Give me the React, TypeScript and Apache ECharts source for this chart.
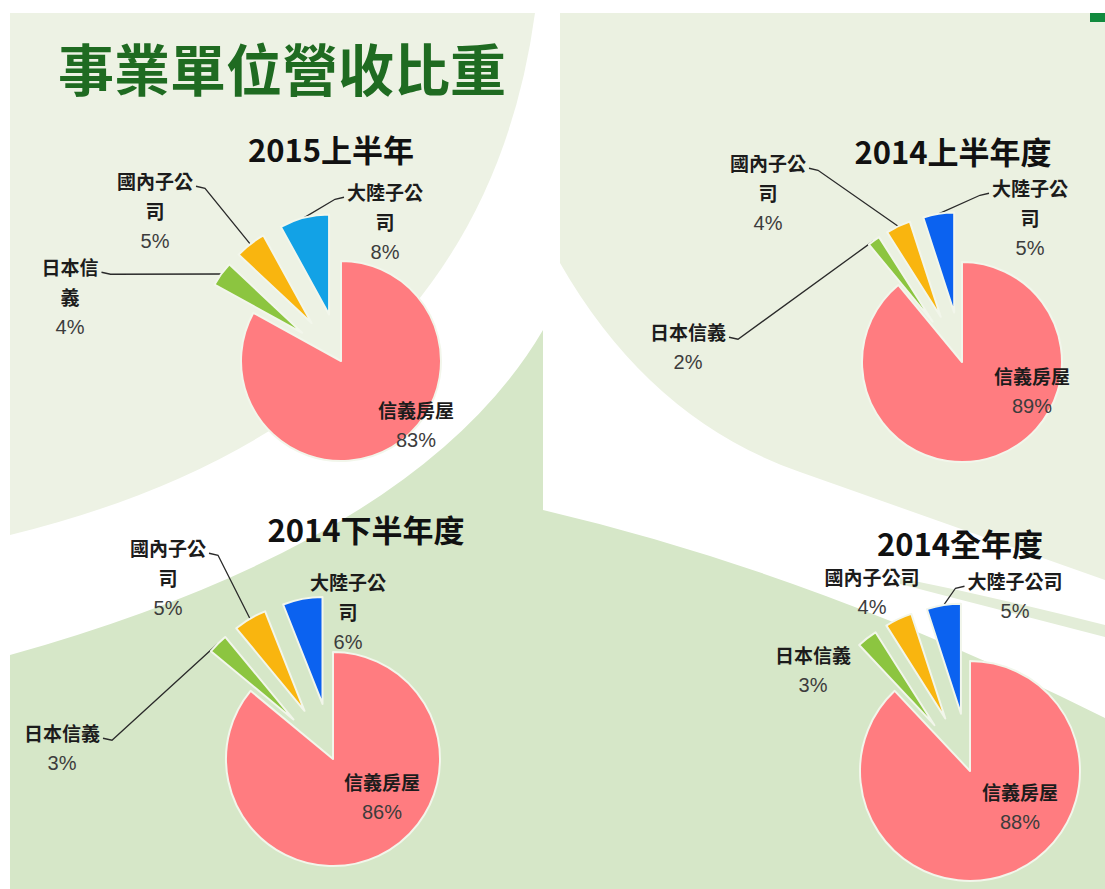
import React, { useEffect, useRef } from 'react';
import * as echarts from 'echarts';

// ---------- data ----------
const mainTitle = '事業單位營收比重';
const categories = ['信義房屋', '日本信義', '國內子公司', '大陸子公司'];
const chartTitles = ['2015上半年', '2014上半年度', '2014下半年度', '2014全年度'];
const values2015H1 = [83, 4, 5, 8];
const values2014H1 = [89, 2, 4, 5];
const values2014H2 = [86, 3, 5, 6];
const values2014FY = [88, 3, 4, 5];

// ---------- styling / layout ----------
const sliceColors = ['#FF7C80', '#8CC540', '#F9B50F', '#0B62F0'];
const panels = [
  { values: values2015H1, title: chartTitles[0], center: [341, 361], radius: 100, offset: 48, titlePos: [331, 148], blue: '#12A2E6', wrap: [4, 3, 4, 4], lineShow: [false, true, true, true], labelPos: [[75, 64], [-271, -64], [-186, -150], [44, -139]] },
  { values: values2014H1, title: chartTitles[1], center: [962, 362], radius: 100, offset: 50, titlePos: [953, 150], blue: '#0B62F0', wrap: [4, 4, 4, 4], lineShow: [false, true, true, true], labelPos: [[70, 29], [-274, -15], [-194, -169], [68, -144]] },
  { values: values2014H2, title: chartTitles[2], center: [333, 759], radius: 107, offset: 56, titlePos: [366, 528], blue: '#0B62F0', wrap: [4, 4, 4, 4], lineShow: [false, true, true, false], labelPos: [[49, 38], [-271, -11], [-165, -181], [15, -147]] },
  { values: values2014FY, title: chartTitles[3], center: [970, 771], radius: 110, offset: 58, titlePos: [960, 542], blue: '#0B62F0', wrap: [5, 5, 5, 5], lineShow: [false, false, false, true], labelPos: [[50, 36], [-157, -101], [-98, -179], [45, -175]] },
];

const bgShapes: [string, string, string][] = [
  ['bgTopLeft', 'M10,13 L535,13 Q480,420 10,535 Z', '#EDF2E4'],
  ['bgTopRight', 'M560,13 L1105,13 L1105,580 Q950,525 800,472 Q650,420 560,263 Z', '#EBF1E1'],
  ['bgBottom', 'M10,655 Q420,540 543,330 L543,510 Q820,575 1105,718 L1105,889 L10,889 Z', '#D6E7C8'],
  ['bgStripe', 'M900,578 Q1000,598 1105,625 L1105,637 Q1000,610 900,584 Z', '#E3EDD8'],
];

let registered = false;
function registerShapes() {
  if (registered) return;
  registered = true;
  bgShapes.forEach(([name, d]) => {
    echarts.graphic.registerShape(name, echarts.graphic.extendPath(d, {}) as any);
  });
}

function wrapName(name: string, w: number) {
  if (name.length <= w) return [name];
  return [name.slice(0, w), name.slice(w)];
}

const cjkFont = '"Noto Sans CJK TC", "Noto Sans CJK SC", sans-serif';
const numFont = '"Liberation Sans", Arial, sans-serif';
const LINE_H = 30;

export default function App() {
  const ref = useRef<HTMLDivElement>(null);
  useEffect(() => {
    if (!ref.current) return;
    registerShapes();
    const chart = echarts.init(ref.current, undefined, { renderer: 'svg' });

    const graphics: any[] = [];
    bgShapes.forEach(([name, , fill]) => {
      graphics.push({ type: name, x: 0, y: 0, z: -10, silent: true, style: { fill } });
    });
    graphics.push({ type: 'rect', z: -5, silent: true, shape: { x: 1090, y: 13, width: 15, height: 9 }, style: { fill: '#118A3E' } });
    graphics.push({
      type: 'text', x: 58, y: 66, z: 5,
      style: { text: mainTitle, fontSize: 56, fontWeight: 'bold', fontFamily: cjkFont, fill: '#1F6B21', align: 'left', verticalAlign: 'middle' },
    });
    panels.forEach((p) => {
      graphics.push({
        type: 'text', x: p.titlePos[0], y: p.titlePos[1], z: 5,
        style: { text: p.title, fontSize: 31, fontWeight: 'bold', fontFamily: cjkFont, fill: '#111', align: 'center', verticalAlign: 'middle' },
      });
    });

    const series = panels.map((p) => {
      const total = p.values.reduce((a, b) => a + b, 0);
      const mids: number[] = [];
      let acc = 0;
      p.values.forEach((v) => {
        mids.push(((acc + v / 2) / total) * Math.PI * 2);
        acc += v;
      });
      const [cx, cy] = p.center;
      return {
        type: 'pie',
        center: p.center,
        radius: p.radius,
        startAngle: 90,
        clockwise: true,
        selectedMode: 'multiple',
        selectedOffset: p.offset,
        avoidLabelOverlap: false,
        silent: true,
        emphasis: { disabled: true },
        itemStyle: { borderColor: '#F2F6EB', borderWidth: 2 },
        data: categories.map((name, i) => ({
          name,
          value: p.values[i],
          selected: i > 0,
          itemStyle: { color: i === 3 ? p.blue : sliceColors[i] },
          labelLine: { show: p.lineShow[i] },
        })),
        label: {
          show: true,
          position: 'outside',
          formatter: (params: any) => {
            const lines = wrapName(params.name, p.wrap[params.dataIndex]);
            return lines.map((l) => `{n|${l}}`).join('\n') + `\n{v|${params.value}%}`;
          },
          rich: {
            n: { fontFamily: cjkFont, fontSize: 19, fontWeight: 'bold', color: '#1c1c1c', lineHeight: LINE_H, align: 'center' },
            v: { fontFamily: numFont, fontSize: 20, color: '#3c3c3c', lineHeight: LINE_H, align: 'center' },
          },
        },
        labelLine: { show: true, length: 8, length2: 8, smooth: false, lineStyle: { color: '#2a2a2a', width: 1.3 } },
        labelLayout: (params: any) => {
          const i = params.dataIndex;
          const o = p.labelPos[i];
          const tx = cx + o[0];
          const ty = cy + o[1];
          const r = params.labelRect;
          // selected slices (and their labels) are shifted by the selected offset
          const sel = i > 0 ? p.offset : 0;
          const ox = sel * Math.sin(mids[i]);
          const oy = -sel * Math.cos(mids[i]);
          const res: any = {
            dx: tx - (r.x + r.width / 2) - ox,
            dy: ty - (r.y + r.height / 2) - oy,
            hideOverlap: false,
          };
          if (p.lineShow[i]) {
            const d = p.offset + p.radius;
            const sx = cx + d * Math.sin(mids[i]);
            const sy = cy - d * Math.cos(mids[i]);
            const left = tx < sx;
            const ex = left ? tx + r.width / 2 + 3 : tx - r.width / 2 - 3;
            const ey = ty - r.height / 2 + LINE_H / 2;
            const elx = left ? ex + 9 : ex - 9;
            res.labelLinePoints = [[sx - ox, sy - oy], [elx - ox, ey + 2 - oy], [ex - ox, ey - oy]];
          }
          return res;
        },
      };
    });

    chart.setOption({
      animation: false,
      backgroundColor: '#FFFFFF',
      graphic: graphics,
      series,
    } as any);
    return () => chart.dispose();
  }, []);
  return <div ref={ref} style={{ position: 'fixed', left: 0, top: 0, width: 1105, height: 889 }} />;
}
